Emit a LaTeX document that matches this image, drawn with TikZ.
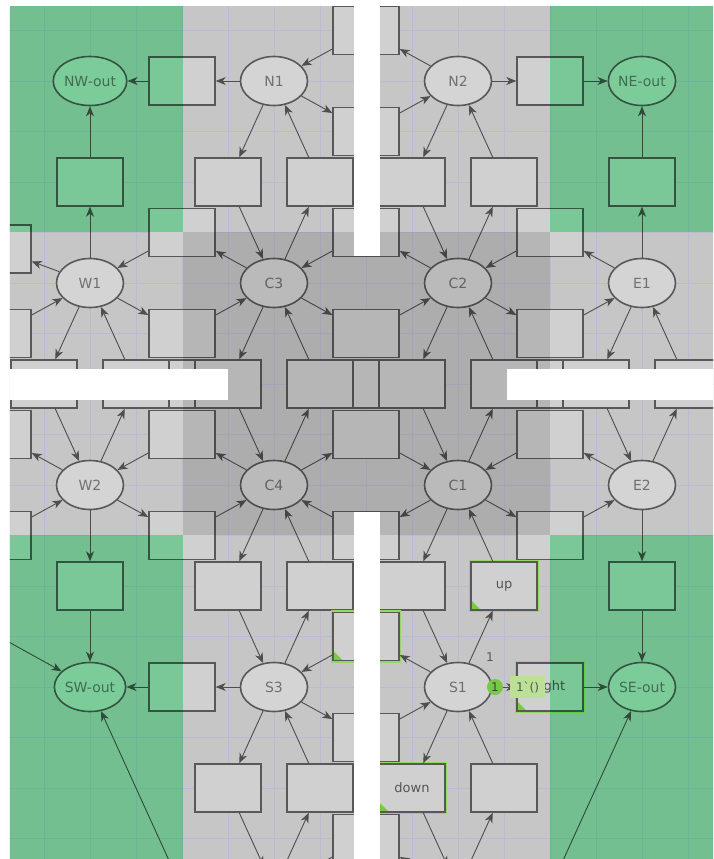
\documentclass[tikz,border=0pt]{standalone}
\usepackage{fontspec}
\setmainfont{DejaVu Sans}
\usetikzlibrary{shapes.geometric,arrows.meta}
\definecolor{bggrey}{RGB}{198,198,198}
\definecolor{gridc}{RGB}{186,186,212}
\definecolor{placefill}{RGB}{212,212,212}
\definecolor{placeline}{RGB}{88,88,88}
\definecolor{placetext}{RGB}{112,112,112}
\definecolor{transfill}{RGB}{208,208,208}
\definecolor{transline}{RGB}{88,88,88}
\definecolor{transtext}{RGB}{85,85,85}
\definecolor{arcline}{RGB}{78,78,78}
\definecolor{greentint}{RGB}{150,246,186}
\definecolor{darktint}{RGB}{224,224,224}
\definecolor{glow}{RGB}{150,215,100}
\definecolor{trigreen}{RGB}{120,205,60}
\definecolor{tokgreen}{RGB}{120,200,70}
\definecolor{markgreen}{RGB}{188,224,150}
\tikzset{
  place/.style={ellipse,draw=placeline,fill=placefill,line width=1.6pt,minimum width=67pt,
    minimum height=49pt,inner sep=0pt,text=placetext,font=\fontsize{14}{16}\selectfont},
  trans/.style={rectangle,draw=transline,fill=transfill,line width=1.4pt,minimum width=66pt,
    minimum height=48pt,inner sep=0pt,text=transtext,font=\fontsize{13}{15}\selectfont},
  enabled/.style={trans,preaction={draw=glow,line width=4.5pt},
    path picture={\fill[trigreen] ([yshift=10pt]path picture bounding box.south west)
      -- (path picture bounding box.south west) -- ([xshift=10pt]path picture bounding box.south west) -- cycle;}},
  arc/.style={draw=arcline,line width=0.9pt,-{Stealth[length=10pt,width=8pt,inset=3pt]}},
  gridline/.style={draw=gridc,line width=0.6pt},
}
\begin{document}
\begin{tikzpicture}[x=46pt,y=-50.5pt]
\useasboundingbox (-1.9565,-0.6040) rectangle (13.5435,16.4059);
\fill[white] (-1.9565,-0.6040) rectangle (13.5435,16.4059);
\clip (-1.7391,-0.4851) rectangle (13.5435,16.4059);
\fill[bggrey] (-2,-1) rectangle (14,17);
\foreach \j in {-1,...,13} \draw[gridline] (\j,-1) -- (\j,17);
\foreach \k in {0,...,16} \draw[gridline] (-2,\k) -- (14,\k);

\foreach \n/\x/\y in {t27/2/7,t67/6/7,t107/10/7,
  t60/6/0,t21/2/1,t101/10/1,t62/6/2,t03/0/3,t33/3/3,t53/5/3,t73/7/3,t93/9/3,t123/12/3,
  tL4/-2/4.327,t24/2/4,t64/6/4,t104/10/4,tL6/-2/6,t26/2/6,t66/6/6,t106/10/6,
  tm17/-1/7,t17/1/7,t37/3/7,t57/5/7,t77/7/7,t97/9/7,t117/11/7,t137/13/7,
  tL8/-2/8,t28/2/8,t68/6/8,t108/10/8,tL10/-2/10,t210/2/10,t610/6/10,t1010/10/10,
  t011/0/11,t311/3/11,t511/5/11,t711/7/11,t1211/12/11,t213/2/13,t614/6/14,
  t315/3/15,t515/5/15,t915/9/15,t616/6/16}
  \node[trans] (\n) at (\x,\y) {};
\node[enabled] (up) at (9,11) {up};
\node[enabled] (t612) at (6,12) {};
\node[enabled] (right) at (10,13) {right};
\node[enabled] (down) at (7,15) {down};

\foreach \n/\x/\y/\l in {NWout/0/1/NW-out,N1/4/1/N1,N2/8/1/N2,NEout/12/1/NE-out,
  W1/0/5/W1,C3/4/5/C3,C2/8/5/C2,E1/12/5/E1,W2/0/9/W2,C4/4/9/C4,C1/8/9/C1,E2/12/9/E2,
  SWout/0/13/SW-out,S3/4/13/S3,S1/8/13/S1,SEout/12/13/SE-out}
  \node[place] (\n) at (\x,\y) {\l};

\coordinate (S3b) at (4,17);
\coordinate (S1b) at (8,17);
\coordinate (b217) at (2,17);
\coordinate (b1017) at (10,17);
\coordinate (swin) at (-2.609,11.683);

\foreach \a/\b in {N1/t21,t21/NWout,W1/t03,t03/NWout,N2/t101,t101/NEout,E1/t123,t123/NEout,
  N2/t60,t60/N1,N1/t62,t62/N2,N1/t33,t33/C3,C3/t53,t53/N1,N2/t73,t73/C2,C2/t93,t93/N2,
  W1/tL4,tL6/W1,C3/t24,t24/W1,W1/t26,t26/C3,C2/t64,t64/C3,C3/t66,t66/C2,
  E1/t104,t104/C2,C2/t106,t106/E1,
  W1/tm17,tm17/W2,W2/t17,t17/W1,C3/t37,t37/C4,C4/t57,t57/C3,
  C2/t77,t77/C1,C1/t97,t97/C2,E1/t117,t117/E2,E2/t137,t137/E1,
  W2/tL8,tL10/W2,C4/t28,t28/W2,W2/t210,t210/C4,C4/t68,t68/C1,C1/t610,t610/C4,
  E2/t108,t108/C1,C1/t1010,t1010/E2,
  W2/t011,t011/SWout,E2/t1211,t1211/SEout,C4/t311,t311/S3,S3/t511,t511/C4,
  C1/t711,t711/S1,S1/up,up/C1,S3/t213,t213/SWout,S1/right,right/SEout,
  S1/t612,t612/S3,S3/t614,t614/S1,S3/t315,t515/S3,S1/down,t915/S1}
  \draw[arc] (\a) -- (\b);
\draw[arc,shorten >=25pt] (t315) -- (S3b);
\draw[arc,shorten <=25pt] (S3b) -- (t515);
\draw[arc,shorten >=25pt] (down) -- (S1b);
\draw[arc,shorten <=25pt] (S1b) -- (t915);
\draw[arc,shorten <=30pt] (S1b) -- (t616);
\draw[arc,shorten >=30pt] (t616) -- (S3b);
\draw[arc] (b217) -- (SWout);
\draw[arc] (b1017) -- (SEout);
\draw[arc] (swin) -- (SWout);

\node[text=transtext,font=\fontsize{12}{14}\selectfont] (insc) at (8.696,12.406) {1};
\node[circle,fill=tokgreen,minimum size=16pt,inner sep=0pt,text=black!75,
  font=\fontsize{12}{14}\selectfont] (tok) at (8.804,13) {1};
\node[fill=markgreen,minimum width=35pt,minimum height=22pt,inner sep=0pt,text=transtext,
  font=\fontsize{12}{14}\selectfont] (mark) at (9.511,13) {1\textasciigrave()};

\begin{scope}[blend mode=multiply]
  \fill[greentint] (-2,-1) rectangle (2.022,3.99);
  \fill[greentint] (10,-1) rectangle (14,3.99);
  \fill[greentint] (-2,9.99) rectangle (2.022,17);
  \fill[greentint] (10,9.99) rectangle (14,17);
  \fill[darktint] (2.022,3.99) rectangle (10,9.99);
\end{scope}

\fill[white] (5.739,-1) rectangle (6.304,4.465);
\fill[white] (5.739,9.535) rectangle (6.304,17);
\fill[white] (-2,6.703) rectangle (3.0,7.317);
\fill[white] (9.065,6.703) rectangle (14,7.317);
\end{tikzpicture}
\end{document}
